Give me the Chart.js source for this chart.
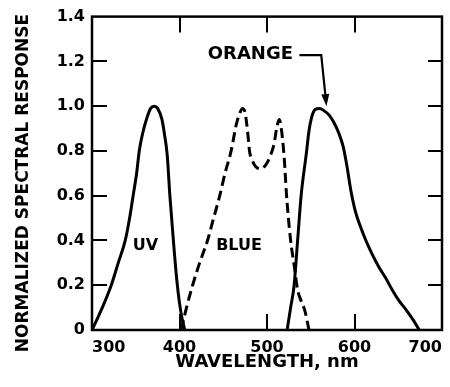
<!DOCTYPE html>
<html lang="en">
<head>
<meta charset="UTF-8">
<title>Normalized spectral response</title>
<script src="https://cdn.jsdelivr.net/npm/chart.js"></script>
<style>
  html, body { margin: 0; padding: 0; background: #fff; }
</style>
</head>
<body>
<canvas id="chart" width="450" height="387"></canvas>
<script>
// values: wavelength (nm) / normalized response
const uvWave = [300, 306, 314, 322, 330, 338, 343, 347, 351, 354, 358, 363, 367, 371, 375, 380, 383, 386, 389, 393, 397, 400, 403, 406];
const uvResp = [0, 0.05, 0.12, 0.2, 0.3, 0.4, 0.5, 0.6, 0.7, 0.8, 0.88, 0.95, 0.99, 1.0, 0.99, 0.94, 0.87, 0.78, 0.6, 0.4, 0.22, 0.12, 0.05, 0];

const blueWave = [402, 408, 415, 423, 432, 439, 446, 452, 459, 465, 469, 472, 475, 478, 480, 483, 487, 493, 499, 504, 508, 511, 514, 517, 520, 522, 524, 527, 531, 535, 539, 543, 548];
const blueResp = [0, 0.1, 0.2, 0.3, 0.4, 0.5, 0.6, 0.7, 0.8, 0.92, 0.97, 0.99, 0.97, 0.88, 0.8, 0.76, 0.73, 0.72, 0.74, 0.78, 0.83, 0.9, 0.94, 0.88, 0.75, 0.62, 0.52, 0.4, 0.29, 0.18, 0.13, 0.09, 0];

const orangeWave = [523, 527, 531, 535, 539, 545, 548, 551, 555, 560, 565, 571, 576, 582, 587, 591, 596, 601, 607, 613, 620, 628, 636, 643, 651, 659, 667, 674];
const orangeResp = [0, 0.1, 0.2, 0.4, 0.6, 0.79, 0.89, 0.95, 0.985, 0.99, 0.98, 0.96, 0.93, 0.88, 0.82, 0.74, 0.62, 0.53, 0.46, 0.4, 0.34, 0.28, 0.23, 0.18, 0.13, 0.09, 0.045, 0];

const xTicks = [300, 400, 500, 600, 700];
const yTicks = [0, 0.2, 0.4, 0.6, 0.8, 1.0, 1.2, 1.4];
const yTickLabels = ['0', '0.2', '0.4', '0.6', '0.8', '1.0', '1.2', '1.4'];

const FAMILY = '"DejaVu Sans", sans-serif';

function pts(xs, ys) {
    return xs.map((v, i) => ({ x: v, y: ys[i] }));
}

// box round the plot with inward tick marks on all four sides
const frameTicks = {
    id: 'frameTicks',
    afterDatasetsDraw(chart) {
        const { ctx, chartArea: a } = chart;
        const x = chart.scales.x, y = chart.scales.y;
        ctx.save();
        ctx.setLineDash([]);
        ctx.strokeStyle = '#000';
        ctx.lineWidth = 2.5;
        ctx.strokeRect(a.left, a.top, a.right - a.left, a.bottom - a.top);
        ctx.lineWidth = 2;
        ctx.beginPath();
        xTicks.slice(1, -1).forEach(v => {
            const px = Math.round(x.getPixelForValue(v));
            ctx.moveTo(px, a.bottom);
            ctx.lineTo(px, a.bottom - 16);
            ctx.moveTo(px, a.top);
            ctx.lineTo(px, a.top + 16);
        });
        yTicks.slice(1, -1).forEach(v => {
            const py = Math.round(y.getPixelForValue(v));
            ctx.moveTo(a.left, py);
            ctx.lineTo(a.left + 15, py);
            ctx.moveTo(a.right, py);
            ctx.lineTo(a.right - 14, py);
        });
        ctx.stroke();
        ctx.restore();
    }
};

// y title, curve names and the ORANGE leader arrow
const notes = {
    id: 'notes',
    afterDraw(chart) {
        const { ctx } = chart;
        const x = chart.scales.x, y = chart.scales.y;
        ctx.save();
        ctx.fillStyle = '#000';
        ctx.strokeStyle = '#000';
        ctx.textAlign = 'center';
        ctx.textBaseline = 'middle';

        ctx.save();
        ctx.translate(24, 183);
        ctx.rotate(-Math.PI / 2);
        ctx.font = 'bold 17px ' + FAMILY;
        ctx.fillText('NORMALIZED SPECTRAL RESPONSE', 0, 0);
        ctx.restore();

        ctx.font = 'bold 16px ' + FAMILY;
        ctx.fillText('UV', x.getPixelForValue(361), y.getPixelForValue(0.377));
        ctx.fillText('BLUE', x.getPixelForValue(468), y.getPixelForValue(0.377));
        ctx.font = 'bold 18px ' + FAMILY;
        ctx.fillText('ORANGE', x.getPixelForValue(481), y.getPixelForValue(1.232));

        const x0 = x.getPixelForValue(537), y0 = y.getPixelForValue(1.228);
        const x1 = x.getPixelForValue(562);
        const tx = x.getPixelForValue(568), ty = y.getPixelForValue(1.0);
        const len = Math.hypot(tx - x1, ty - y0);
        const ux = (tx - x1) / len, uy = (ty - y0) / len;
        const bx = tx - ux * 12, by = ty - uy * 12;
        ctx.lineWidth = 2.2;
        ctx.beginPath();
        ctx.moveTo(x0, y0);
        ctx.lineTo(x1, y0);
        ctx.lineTo(bx, by);
        ctx.stroke();
        ctx.beginPath();
        ctx.moveTo(tx, ty);
        ctx.lineTo(bx - uy * 4, by + ux * 4);
        ctx.lineTo(bx + uy * 4, by - ux * 4);
        ctx.closePath();
        ctx.fill();
        ctx.restore();
    }
};

const curve = {
    borderColor: '#000',
    borderWidth: 3,
    pointRadius: 0,
    fill: false,
    cubicInterpolationMode: 'monotone'
};

new Chart(document.getElementById('chart'), {
    type: 'line',
    data: {
        datasets: [
            Object.assign({ label: 'UV', data: pts(uvWave, uvResp) }, curve),
            Object.assign({ label: 'BLUE', data: pts(blueWave, blueResp), borderDash: [10, 5] }, curve),
            Object.assign({ label: 'ORANGE', data: pts(orangeWave, orangeResp) }, curve)
        ]
    },
    options: {
        responsive: false,
        animation: false,
        layout: { padding: { top: 14, right: 7, bottom: 0, left: 0 } },
        plugins: {
            legend: { display: false },
            tooltip: { enabled: false }
        },
        scales: {
            x: {
                type: 'linear',
                min: 300,
                max: 700,
                afterBuildTicks: s => { s.ticks = xTicks.map(v => ({ value: v })); },
                afterFit: s => { s.height = 57; },
                grid: { display: false, drawTicks: false, tickLength: 0 },
                border: { display: false },
                ticks: {
                    align: 'inner',
                    padding: 8,
                    color: '#000',
                    maxRotation: 0,
                    autoSkip: false,
                    font: { family: FAMILY, size: 16, weight: 'bold' }
                },
                title: {
                    display: true,
                    text: 'WAVELENGTH, nm',
                    color: '#000',
                    padding: { top: 0, bottom: 14 },
                    font: { family: FAMILY, size: 18, weight: 'bold' }
                }
            },
            y: {
                min: 0,
                max: 1.4,
                afterBuildTicks: s => { s.ticks = yTicks.map(v => ({ value: v })); },
                afterFit: s => { s.width = 92; },
                grid: { display: false, drawTicks: false, tickLength: 0 },
                border: { display: false },
                ticks: {
                    padding: 7,
                    color: '#000',
                    autoSkip: false,
                    callback: (v, i) => yTickLabels[i],
                    font: { family: FAMILY, size: 16, weight: 'bold' }
                }
            }
        }
    },
    plugins: [frameTicks, notes]
});
</script>
</body>
</html>
